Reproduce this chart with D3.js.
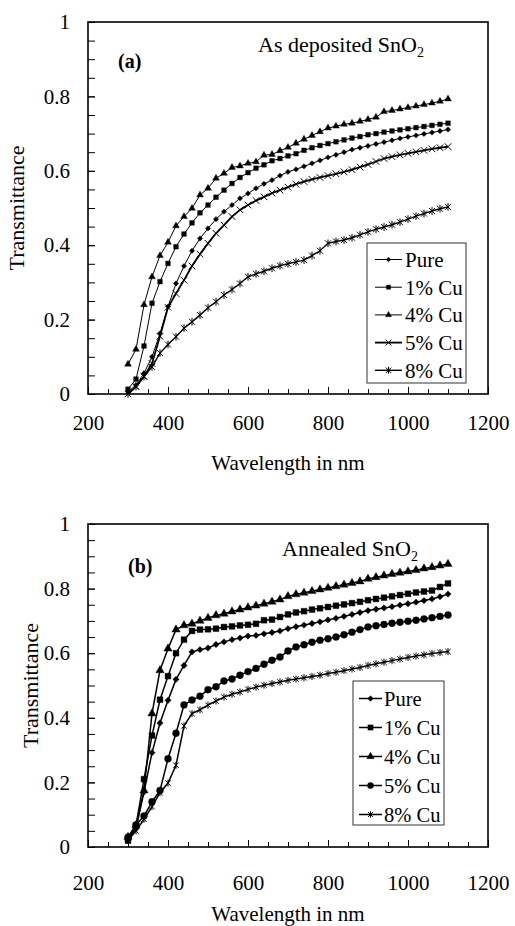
<!DOCTYPE html>
<html>
<head>
<meta charset="utf-8">
<script src="https://cdn.jsdelivr.net/npm/d3@7"></script>
<style>
  body { margin: 0; background: #fff; }
  svg { display: block; font-family: "Liberation Serif", "Times New Roman", serif; }
</style>
</head>
<body>
<svg id="chart" width="515" height="926" font-family="Liberation Serif, serif"></svg>
<script>
// wavelength grid (nm)
const wavelength = [300,320,340,360,380,400,420,440,460,480,500,520,540,560,580,600,620,640,660,680,
  700,720,740,760,780,800,820,840,860,880,900,920,940,960,980,1000,1020,1040,1060,1080,1100];

// (a) as deposited
const depPure = [0.006,0.024,0.056,0.100,0.163,0.235,0.297,0.344,0.385,0.418,0.445,0.470,0.490,0.508,0.526,0.539,0.553,0.565,0.575,0.587,
  0.597,0.604,0.612,0.620,0.628,0.636,0.643,0.650,0.657,0.662,0.667,0.672,0.677,0.682,0.687,0.691,0.695,0.699,0.703,0.707,0.711];
const depCu1 = [0.013,0.040,0.129,0.244,0.302,0.351,0.396,0.430,0.460,0.487,0.508,0.529,0.548,0.566,0.582,0.595,0.607,0.616,0.627,0.633,
  0.640,0.646,0.655,0.662,0.668,0.673,0.678,0.683,0.688,0.692,0.697,0.700,0.704,0.707,0.710,0.713,0.716,0.719,0.722,0.725,0.728];
const depCu4 = [0.080,0.120,0.240,0.315,0.372,0.408,0.452,0.477,0.499,0.535,0.553,0.580,0.593,0.609,0.613,0.620,0.624,0.642,0.644,0.654,
  0.663,0.674,0.685,0.695,0.705,0.715,0.720,0.725,0.728,0.733,0.738,0.744,0.759,0.762,0.766,0.770,0.774,0.778,0.782,0.787,0.793];
const depCu5 = [0.000,0.020,0.047,0.082,0.155,0.233,0.270,0.306,0.344,0.376,0.405,0.432,0.454,0.477,0.495,0.508,0.520,0.530,0.540,0.548,
  0.556,0.564,0.571,0.577,0.582,0.587,0.592,0.597,0.603,0.610,0.617,0.625,0.633,0.638,0.643,0.647,0.651,0.655,0.659,0.662,0.665];
const depCu8 = [0.000,0.020,0.047,0.073,0.110,0.133,0.154,0.177,0.194,0.212,0.232,0.248,0.266,0.281,0.297,0.315,0.323,0.330,0.338,0.345,
  0.350,0.355,0.360,0.372,0.385,0.405,0.410,0.414,0.420,0.428,0.436,0.443,0.449,0.455,0.462,0.470,0.478,0.485,0.492,0.498,0.503];

// (b) annealed
const annPure = [0.020,0.057,0.170,0.292,0.384,0.454,0.519,0.562,0.604,0.611,0.616,0.627,0.635,0.642,0.647,0.653,0.655,0.660,0.664,0.669,
  0.676,0.682,0.687,0.692,0.697,0.703,0.708,0.714,0.720,0.726,0.732,0.736,0.740,0.744,0.749,0.753,0.758,0.763,0.768,0.775,0.783];
const annCu1 = [0.020,0.067,0.210,0.345,0.456,0.529,0.600,0.642,0.669,0.673,0.674,0.676,0.681,0.683,0.686,0.688,0.691,0.702,0.704,0.712,
  0.720,0.726,0.730,0.735,0.739,0.743,0.747,0.751,0.755,0.759,0.764,0.768,0.772,0.776,0.780,0.784,0.788,0.791,0.794,0.805,0.816];
const annCu4 = [0.031,0.067,0.175,0.413,0.547,0.614,0.673,0.686,0.691,0.700,0.709,0.717,0.722,0.729,0.735,0.741,0.747,0.753,0.759,0.766,
  0.776,0.782,0.787,0.792,0.797,0.802,0.807,0.812,0.817,0.822,0.830,0.835,0.840,0.845,0.849,0.853,0.857,0.862,0.866,0.871,0.876];
const annCu5 = [0.030,0.068,0.096,0.140,0.175,0.273,0.352,0.440,0.455,0.467,0.487,0.496,0.514,0.520,0.532,0.543,0.553,0.566,0.578,0.588,
  0.607,0.619,0.626,0.634,0.640,0.645,0.650,0.657,0.665,0.673,0.681,0.685,0.689,0.693,0.696,0.699,0.702,0.706,0.710,0.714,0.718];
const annCu8 = [0.020,0.050,0.086,0.125,0.168,0.198,0.253,0.375,0.413,0.425,0.439,0.452,0.464,0.473,0.480,0.488,0.495,0.501,0.506,0.511,
  0.516,0.520,0.524,0.528,0.532,0.537,0.541,0.546,0.551,0.556,0.562,0.567,0.572,0.577,0.582,0.587,0.591,0.595,0.599,0.602,0.605];

const seriesNames = ["Pure", "1% Cu", "4% Cu", "5% Cu", "8% Cu"];
const xTicks = [200, 400, 600, 800, 1000, 1200];
const yTicks = [0, 0.2, 0.4, 0.6, 0.8, 1];
const FONT = "Liberation Serif, Times New Roman, serif";

// excel style "*" marker: x plus a vertical bar
const symbolStar = {
  draw(ctx, size) {
    const r = Math.sqrt(size) / 2;
    ctx.moveTo(-r, -r); ctx.lineTo(r, r);
    ctx.moveTo(-r, r); ctx.lineTo(r, -r);
    ctx.moveTo(0, -r * 1.3); ctx.lineTo(0, r * 1.3);
  }
};

const svg = d3.select("#chart");

function drawPanel(p) {
  const x = d3.scaleLinear().domain([200, 1200]).range([p.left, p.right]);
  const y = d3.scaleLinear().domain([0, 1]).range([p.bottom, p.top]);
  const g = svg.append("g").attr("class", "panel").attr("font-family", FONT);

  // minor ticks (inside)
  g.append("g")
    .attr("transform", "translate(0," + p.bottom + ")")
    .call(d3.axisBottom(x).tickValues(d3.range(250, 1200, 50).filter(v => v % 200 != 0))
      .tickSizeInner(-5).tickSizeOuter(0).tickFormat(""))
    .call(a => a.select(".domain").remove());
  g.append("g")
    .attr("transform", "translate(" + p.left + ",0)")
    .call(d3.axisLeft(y).tickValues(d3.range(0.05, 1, 0.05)).tickSizeInner(-7).tickSizeOuter(0).tickFormat(""))
    .call(a => a.select(".domain").remove());

  // major ticks + labels
  const xa = g.append("g")
    .attr("transform", "translate(0," + p.bottom + ")")
    .call(d3.axisBottom(x).tickValues(xTicks).tickSizeInner(-7).tickSizeOuter(0).tickPadding(p.xPad)
      .tickFormat(d => String(d)));
  const ya = g.append("g")
    .attr("transform", "translate(" + p.left + ",0)")
    .call(d3.axisLeft(y).tickValues(yTicks).tickSizeInner(-7).tickSizeOuter(0).tickPadding(18)
      .tickFormat(d => String(d)));
  [xa, ya].forEach(a => {
    a.attr("font-family", FONT);
    a.select(".domain").remove();
    a.selectAll("text").attr("font-size", 21).attr("fill", "#000");
  });
  g.selectAll(".tick line").attr("stroke", "#000").attr("stroke-width", 1);

  // frame
  g.append("rect")
    .attr("x", p.left).attr("y", p.top)
    .attr("width", p.right - p.left).attr("height", p.bottom - p.top)
    .attr("fill", "none").attr("stroke", "#000").attr("stroke-width", 1.6);

  // series
  const line = d3.line().x(d => x(d[0])).y(d => y(d[1]));
  p.series.forEach(s => {
    const pts = wavelength.map((w, i) => [w, s.values[i]]);
    g.append("path").datum(pts)
      .attr("d", line).attr("fill", "none")
      .attr("stroke", "#000").attr("stroke-width", s.lw);
    const sym = d3.symbol().type(s.type).size(s.size);
    g.selectAll(null).data(pts).enter().append("path")
      .attr("d", sym)
      .attr("transform", d => "translate(" + x(d[0]) + "," + y(d[1]) + ")" + (s.rot ? " rotate(45)" : ""))
      .attr("fill", s.stroke ? "none" : "#000")
      .attr("stroke", "#000").attr("stroke-width", s.stroke ? 1 : 0.4);
  });

  // axis titles
  g.append("text")
    .attr("transform", "translate(" + p.yTitleX + "," + ((p.top + p.bottom) / 2) + ") rotate(-90)")
    .attr("text-anchor", "middle").attr("font-size", 22)
    .text("Transmittance");
  g.append("text")
    .attr("x", (p.left + p.right) / 2).attr("y", p.xTitleY)
    .attr("text-anchor", "middle").attr("font-size", 21)
    .text("Wavelength in nm");

  // panel label and heading
  g.append("text").attr("x", p.tagX).attr("y", p.tagY)
    .attr("font-size", 20).attr("font-weight", "bold").text(p.tag);
  const h = g.append("text").attr("x", p.headX).attr("y", p.headY).attr("font-size", 22);
  h.append("tspan").text(p.head);
  h.append("tspan").attr("font-size", 14).attr("dy", 5).text("2");

  // legend
  const L = p.legend;
  g.append("rect").attr("x", L.x).attr("y", L.y).attr("width", L.w).attr("height", L.h)
    .attr("fill", "#fff").attr("stroke", "#333").attr("stroke-width", 1);
  p.series.forEach((s, i) => {
    const cy = L.y + L.first + i * L.step;
    g.append("line").attr("x1", L.x + L.l0).attr("x2", L.x + L.l1)
      .attr("y1", cy).attr("y2", cy).attr("stroke", "#000").attr("stroke-width", s.lw);
    g.append("path")
      .attr("d", d3.symbol().type(s.type).size(s.size * 0.8))
      .attr("transform", "translate(" + (L.x + (L.l0 + L.l1) / 2) + "," + cy + ")" + (s.rot ? " rotate(45)" : ""))
      .attr("fill", s.stroke ? "none" : "#000").attr("stroke", "#000").attr("stroke-width", s.stroke ? 1 : 0.4);
    g.append("text").attr("x", L.x + L.tx).attr("y", cy).attr("dy", "0.35em")
      .attr("font-size", L.fs).text(seriesNames[i]);
  });
}

drawPanel({
  left: 88, right: 488, top: 22, bottom: 394, xPad: 21,
  yTitleX: 24, xTitleY: 470,
  tag: "(a)", tagX: 118, tagY: 68, head: "As deposited SnO", headX: 258, headY: 52,
  series: [
    { values: depPure, type: d3.symbolSquare, rot: true, size: 14, lw: 1 },
    { values: depCu1, type: d3.symbolSquare, size: 22, lw: 1 },
    { values: depCu4, type: d3.symbolTriangle, size: 20, lw: 1 },
    { values: depCu5, type: d3.symbolX, size: 30, stroke: true, lw: 1.8 },
    { values: depCu8, type: symbolStar, size: 36, stroke: true, lw: 1.4 }
  ],
  legend: { x: 367, y: 243, w: 99, h: 140, first: 16.5, step: 27.7, l0: 8, l1: 35, tx: 38, fs: 21 }
});

drawPanel({
  left: 88, right: 488, top: 524, bottom: 847, xPad: 28,
  yTitleX: 38, xTitleY: 921,
  tag: "(b)", tagX: 128, tagY: 573, head: "Annealed SnO", headX: 282, headY: 556,
  series: [
    { values: annPure, type: d3.symbolSquare, rot: true, size: 20, lw: 1.5 },
    { values: annCu1, type: d3.symbolSquare, size: 34, lw: 1.5 },
    { values: annCu4, type: d3.symbolTriangle, size: 30, lw: 1.5 },
    { values: annCu5, type: d3.symbolCircle, size: 38, lw: 1.5 },
    { values: annCu8, type: symbolStar, size: 30, stroke: true, lw: 1.5 }
  ],
  legend: { x: 353, y: 681, w: 91, h: 144, first: 17.5, step: 29, l0: 6, l1: 29, tx: 31, fs: 20.5 }
});
</script>
</body>
</html>
